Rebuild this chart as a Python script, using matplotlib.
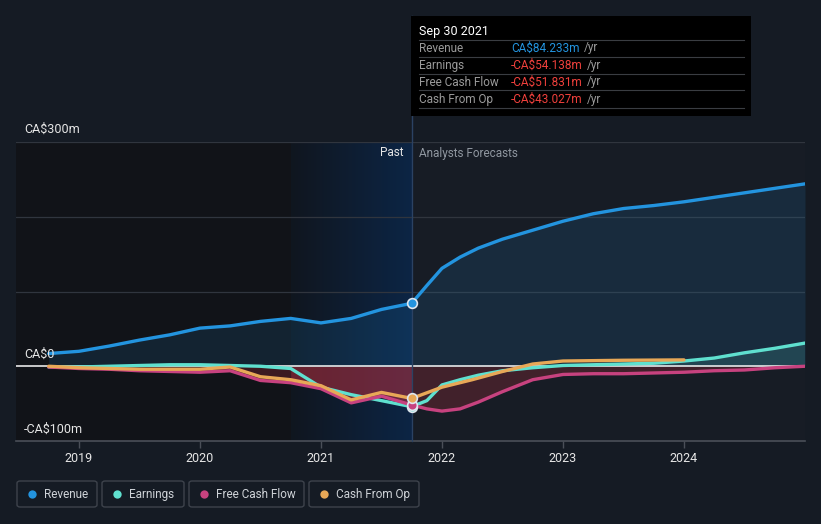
import numpy as np
import matplotlib.pyplot as plt
from matplotlib.patches import Rectangle, FancyBboxPatch
from matplotlib.lines import Line2D
from matplotlib.colors import LinearSegmentedColormap

plt.rcParams['font.family'] = ['Roboto', 'DejaVu Sans']

# 数据 (CA$m, 按年份小数)
past_x = [2018.75, 2019.0, 2019.25, 2019.5, 2019.75, 2020.0, 2020.25, 2020.5,
          2020.75, 2021.0, 2021.25, 2021.5, 2021.75]
revenue_past = [17, 20, 27, 35, 42, 51, 54, 60, 64, 58, 64, 76, 84.233]
earnings_past = [-1, -1, 0, 1, 2, 2, 1, 0, -3, -28, -38, -46, -54.138]
fcf_past = [-1, -3, -4, -6, -7, -8, -6, -19, -22, -30, -49, -40, -51.831]
cfo_past = [0, -2, -3, -4, -4, -4, -1, -14, -18, -26, -45, -35, -43.027]

fc_x = [2021.75, 2021.875, 2022.0, 2022.15, 2022.3, 2022.5, 2022.75, 2023.0, 2023.25,
        2023.5, 2023.75, 2024.0, 2024.25, 2024.5, 2024.75, 2025.0]
revenue_fc = [84.233, 108, 131, 146, 158, 170, 182, 194, 204, 211, 215, 220, 226, 232,
              238, 244]
earnings_fc = [-54.138, -46, -25, -18, -12, -6, -2, 1, 2, 3, 4, 7, 11, 18, 24, 31]
fcf_fc = [-51.831, -57, -60, -57, -48, -34, -18, -11, -10, -10, -9, -8, -6, -5, -2, 0]
cfo_fc_x = [2021.75, 2022.0, 2022.25, 2022.5, 2022.75, 2023.0, 2023.5, 2024.0]
cfo_fc = [-43.027, -28, -18, -7, 3, 7, 8, 8.5]

years = [2019, 2020, 2021, 2022, 2023, 2024]
labels = ['Revenue', 'Earnings', 'Free Cash Flow', 'Cash From Op']
colors = ['#2394df', '#5fe0cf', '#c7427f', '#e8a857']
tip_values = ['CA$84.233m', '-CA$54.138m', '-CA$51.831m', '-CA$43.027m']

BG = '#151b24'
W, H = 821, 524

fig = plt.figure(figsize=(W / 100, H / 100), dpi=100, facecolor=BG)


def fx(x):
    return x / W


def fy(y):
    return 1 - y / H


ax = fig.add_axes([fx(16), fy(441), fx(805) - fx(16), fy(142) - fy(441)])
ax.set_facecolor('#171c25')
ax.set_xlim(2018.48, 2025.0)
ax.set_ylim(-100, 300)

# 背景区域
ax.axvspan(2018.48, 2021.75, color='#111318', zorder=0)
grad = np.linspace(0, 1, 200).reshape(1, -1)
cmap = LinearSegmentedColormap.from_list('hl', ['#10161f', '#0c2545'])
ax.imshow(grad, extent=[2020.75, 2021.75, -100, 300], aspect='auto', cmap=cmap,
          zorder=0.5)

for g in [100, 200, 300]:
    ax.axhline(g, color='#30353e', lw=0.9, zorder=1)

all_x = past_x + fc_x[1:]
rev = revenue_past + revenue_fc[1:]
earn = earnings_past + earnings_fc[1:]
fcf = fcf_past + fcf_fc[1:]

ax.fill_between(all_x, rev, 0, color='#2394df', alpha=0.13, lw=0, zorder=1.5)
ax.fill_between(all_x, fcf, 0, where=np.array(fcf) < 0, color='#c0303f', alpha=0.25,
                lw=0, zorder=1.5, interpolate=True)
ax.fill_between(past_x[8:], fcf_past[8:], 0, color='#c0303f', alpha=0.35, lw=0, zorder=1.6)
ax.fill_between(all_x, earn, 0, where=np.array(earn) > 0, color='#5fe0cf', alpha=0.15,
                lw=0, zorder=1.5, interpolate=True)

ax.axhline(0, color='#e8e8e8', lw=1.2, zorder=2)

lw = 2.4
kw = dict(solid_capstyle='round', solid_joinstyle='round', zorder=3)
ax.plot(past_x, earnings_past, color=colors[1], lw=lw, **kw)
ax.plot(fc_x, earnings_fc, color=colors[1], lw=lw, **kw)
ax.plot(past_x, fcf_past, color=colors[2], lw=lw, **kw)
ax.plot(fc_x, fcf_fc, color=colors[2], lw=lw, **kw)
ax.plot(past_x, cfo_past, color=colors[3], lw=lw, **kw)
ax.plot(cfo_fc_x, cfo_fc, color=colors[3], lw=lw, **kw)
ax.plot(past_x, revenue_past, color=colors[0], lw=lw, **kw)
ax.plot(fc_x, revenue_fc, color=colors[0], lw=lw, **kw)

# 当前点
for v, c in [(earnings_past[-1], colors[1]), (fcf_past[-1], colors[2]),
             (cfo_past[-1], colors[3]), (revenue_past[-1], colors[0])]:
    ax.plot(2021.75, v, 'o', ms=7, mfc=c, mec='#dfe6ee', mew=1.2, zorder=5)

# 分割线
ax.axvline(2021.75, ymin=0, ymax=(441 - 16) / (441 - 142), color='#2b4263', lw=1,
           clip_on=False, zorder=4)

for s in ['top', 'right', 'left']:
    ax.spines[s].set_visible(False)
ax.spines['bottom'].set_color('#4a4f58')
ax.spines['bottom'].set_linewidth(1.2)
ax.set_yticks([])
ax.set_xticks(years)
ax.set_xticklabels([str(y) for y in years])
ax.tick_params(axis='x', colors='#4a4f58', labelcolor='#e6e6e6', labelsize=9,
               length=5, width=1, pad=3)

# y 轴标签
fig.text(fx(24), fy(129), 'CA$300m', color='#e6e6e6', fontsize=9, va='center')
fig.text(fx(24), fy(354), 'CA$0', color='#e6e6e6', fontsize=9, va='center')
fig.text(fx(24), fy(429), '-CA$100m', color='#e6e6e6', fontsize=9, va='center')

fig.text(fx(403), fy(153), 'Past', color='#e6e6e6', fontsize=8.5, ha='right', va='center')
fig.text(fx(419), fy(153), 'Analysts Forecasts', color='#9097a0', fontsize=8.5,
         ha='left', va='center')

# 提示框
fig.add_artist(Rectangle((fx(411), fy(116)), fx(751) - fx(411), fy(16) - fy(116),
                         transform=fig.transFigure, facecolor='#000000',
                         edgecolor='none', zorder=10))
fig.text(fx(419), fy(31), 'Sep 30 2021', color='#ffffff', fontsize=9, va='center',
         zorder=11)
row_y = [48, 65, 82, 99]
for i, (lab, val) in enumerate(zip(labels, tip_values)):
    y = row_y[i]
    fig.add_artist(Line2D([fx(419), fx(744)], [fy(y - 8.5), fy(y - 8.5)],
                          transform=fig.transFigure, color='#3a3d42', lw=0.8, zorder=11))
    fig.text(fx(419), fy(y), lab, color='#9a9a9a', fontsize=8.5, va='center', zorder=11)
    vc = '#2394df' if i == 0 else '#f0403c'
    t = fig.text(fx(511), fy(y), val, color=vc, fontsize=8.5, va='center', zorder=11)
    fig.canvas.draw()
    bb = t.get_window_extent()
    fig.text(bb.x1 / W + fx(4), fy(y), '/yr', color='#9a9a9a', fontsize=8.5, va='center',
             zorder=11)
fig.add_artist(Line2D([fx(419), fx(744)], [fy(107.5), fy(107.5)],
                      transform=fig.transFigure, color='#3a3d42', lw=0.8, zorder=11))

# 图例
boxes = [(17, 97), (102, 184), (189, 304), (309, 419)]
for (x0, x1), lab, c in zip(boxes, labels, colors):
    fig.add_artist(FancyBboxPatch((fx(x0), fy(507)), fx(x1 - x0), fy(481) - fy(507),
                                  boxstyle='round,pad=0,rounding_size=0.004',
                                  transform=fig.transFigure, facecolor='none',
                                  edgecolor='#3e434c', lw=1))
    fig.add_artist(Line2D([fx(x0 + 15)], [fy(494)], marker='o', ms=6, color=c, mew=0,
                          transform=fig.transFigure))
    fig.text(fx(x0 + 27), fy(498), lab, color='#cfd3d8', fontsize=8.5, va='baseline')

fig.savefig('out.png', dpi=100, facecolor=BG)
